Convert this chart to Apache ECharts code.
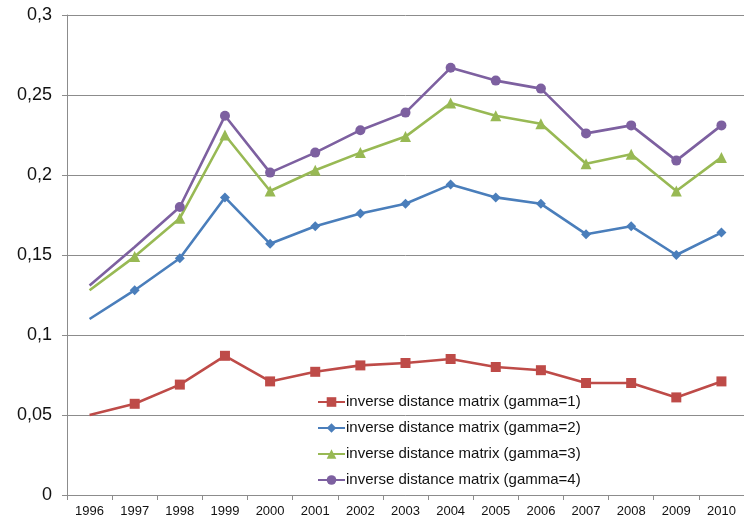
<!DOCTYPE html>
<html>
<head>
<meta charset="utf-8">
<script src="https://cdn.jsdelivr.net/npm/echarts@6/dist/echarts.min.js"></script>
<style>
  html, body { margin: 0; padding: 0; background: #fff; }
  #chart { width: 744px; height: 520px; }
</style>
</head>
<body>
<div id="chart"></div>
<script>
// Years on the category axis
const years = ['1996','1997','1998','1999','2000','2001','2002','2003','2004','2005','2006','2007','2008','2009','2010'];

// Inverse distance matrix, one series per gamma
const gamma1 = [0.050, 0.057, 0.069, 0.087, 0.071, 0.077, 0.081, 0.0825, 0.085, 0.080, 0.078, 0.070, 0.070, 0.061, 0.071];
const gamma2 = [0.110, 0.128, 0.148, 0.186, 0.157, 0.168, 0.176, 0.182, 0.194, 0.186, 0.182, 0.163, 0.168, 0.150, 0.164];
const gamma3 = [0.128, 0.149, 0.173, 0.225, 0.190, 0.203, 0.214, 0.224, 0.245, 0.237, 0.232, 0.207, 0.213, 0.190, 0.211];
const gamma4 = [0.131, 0.155, 0.180, 0.237, 0.2015, 0.214, 0.228, 0.239, 0.267, 0.259, 0.254, 0.226, 0.231, 0.209, 0.231];

// Value axis ticks
const yMin = 0, yMax = 0.3, yStep = 0.05;

const names = [
  'inverse distance matrix (gamma=1)',
  'inverse distance matrix (gamma=2)',
  'inverse distance matrix (gamma=3)',
  'inverse distance matrix (gamma=4)'
];

// leading points drawn without a marker
function withHidden(values, count) {
  return values.map((v, i) => i < count ? { value: v, symbol: 'none' } : v);
}

function lineSeries(name, values, color, symbol, size, hidden) {
  return {
    name: name,
    type: 'line',
    data: withHidden(values, hidden),
    symbol: symbol,
    symbolSize: size,
    showAllSymbol: true,
    lineStyle: { color: color, width: 2.6 },
    itemStyle: { color: color },
    z: 3
  };
}

const chart = echarts.init(document.getElementById('chart'), null, { renderer: 'canvas' });
const axisGray = '#8c8c8c';
const textColor = '#111';
chart.setOption({
  animation: false,
  backgroundColor: '#ffffff',
  grid: { left: 67, right: -8, top: 15, bottom: 25, containLabel: false },
  legend: {
    orient: 'vertical',
    left: 312,
    top: 389,
    itemWidth: 27,
    itemHeight: 12,
    itemGap: 10,
    textStyle: { fontFamily: 'Liberation Sans, Arial, sans-serif', fontSize: 15, color: textColor, lineHeight: 16, padding: [0, 0, 0, -4] },
    data: names
  },
  xAxis: {
    type: 'category',
    data: years,
    boundaryGap: true,
    axisLine: { show: true, lineStyle: { color: axisGray, width: 1 } },
    axisTick: { show: true, length: 5, lineStyle: { color: axisGray } },
    axisLabel: { fontFamily: 'Liberation Sans, Arial, sans-serif', fontSize: 13, color: textColor, margin: 10, interval: 0 },
    splitLine: { show: false }
  },
  yAxis: {
    type: 'value',
    min: yMin,
    max: yMax,
    interval: yStep,
    axisLine: { show: true, lineStyle: { color: axisGray, width: 1 } },
    axisTick: { show: true, length: 5, lineStyle: { color: axisGray } },
    axisLabel: {
      fontFamily: 'Liberation Sans, Arial, sans-serif',
      fontSize: 18,
      color: textColor,
      margin: 15,
      formatter: v => String(Math.round(v * 100) / 100).replace('.', ',')
    },
    splitLine: { show: true, lineStyle: { color: axisGray, width: 1 } }
  },
  series: [
    lineSeries(names[0], gamma1, '#BE4B48', 'rect', 10, 1),
    lineSeries(names[1], gamma2, '#4A7EBB', 'diamond', 10, 1),
    lineSeries(names[2], gamma3, '#98B954', 'triangle', 11, 1),
    lineSeries(names[3], gamma4, '#7D60A0', 'circle', 10, 2)
  ]
});
</script>
</body>
</html>
